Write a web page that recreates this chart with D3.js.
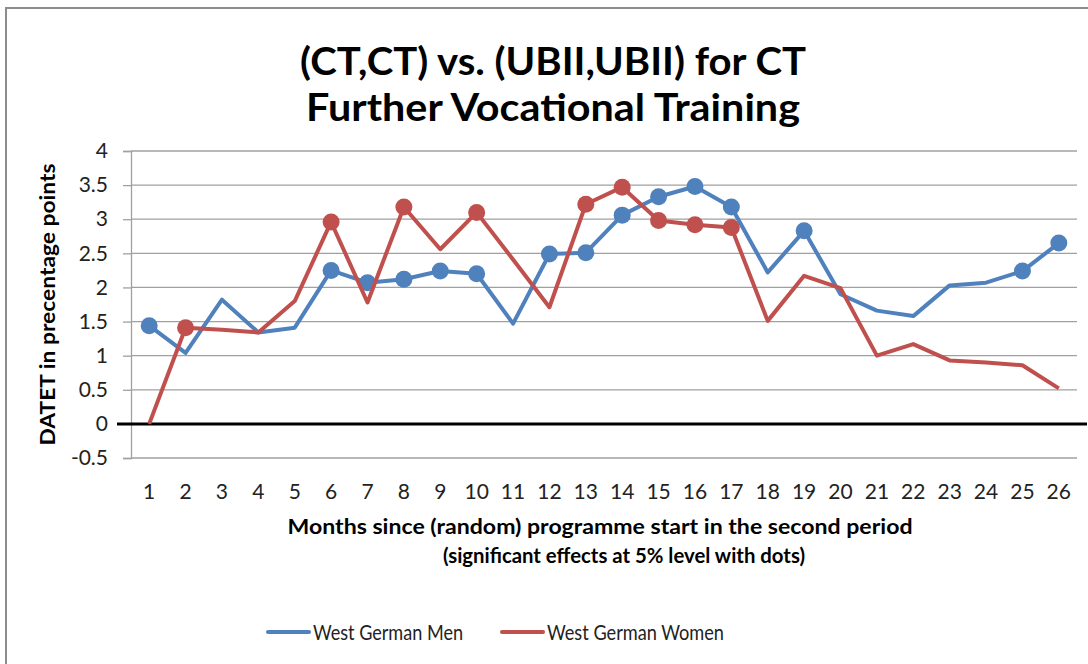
<!DOCTYPE html>
<html>
<head>
<meta charset="utf-8">
<script src="https://cdn.jsdelivr.net/npm/d3@7"></script>
<style>
  body { margin: 0; background: #fff; }
  svg { display: block; }
</style>
</head>
<body>
<div id="cnt"></div>
<script>
const months = [1, 2, 3, 4, 5, 6, 7, 8, 9, 10, 11, 12, 13, 14, 15, 16, 17, 18, 19, 20, 21, 22, 23, 24, 25, 26]
const menValues = [1.44, 1.04, 1.82, 1.34, 1.41, 2.25, 2.07, 2.12, 2.24, 2.20, 1.47, 2.49, 2.51, 3.06, 3.33, 3.48, 3.18, 2.22, 2.83, 1.90, 1.66, 1.58, 2.03, 2.07, 2.24, 2.65]
const womenValues = [0, 1.41, 1.38, 1.34, 1.80, 2.96, 1.78, 3.18, 2.56, 3.10, 2.41, 1.71, 3.22, 3.47, 2.98, 2.92, 2.88, 1.51, 2.17, 1.99, 1.00, 1.17, 0.93, 0.90, 0.86, 0.52]
// months where the effect is significant at 5% (drawn with dots)
const menSignificant = [1, 6, 7, 8, 9, 10, 12, 13, 14, 15, 16, 17, 19, 25, 26]
const womenSignificant = [2, 6, 8, 10, 13, 14, 15, 16, 17]
const yTicks = [-0.5, 0, 0.5, 1, 1.5, 2, 2.5, 3, 3.5, 4]
const seriesNames = ['West German Men', 'West German Women']

const titleLines = ['(CT,CT) vs. (UBII,UBII) for CT', 'Further Vocational Training']
const xTitleLines = ['Months since (random) programme start in the second period', '(significant effects at 5% level with dots)']
const yTitle = 'DATET in precentage points'

const blue = '#4f81bd'
const red = '#c0504d'
const gridColor = '#a0a0a0'
const font = 'Lato, Calibri, "Open Sans", sans-serif'

const width = 1088
const height = 664
const plotLeft = 131
const plotRight = 1077
const plotTop = 151
const plotBottom = 458

const x = d3.scaleBand()
    .domain(months)
    .range([plotLeft, plotRight])
    .padding(0)
const cx = m => x(m) + x.bandwidth() / 2

const y = d3.scaleLinear()
    .domain([-0.5, 4])
    .range([plotBottom, plotTop])

const svg = d3.select('#cnt')
    .append('svg')
    .attr('width', width)
    .attr('height', height)
    .style('font-family', font)

// chart area border
svg.append('rect')
    .attr('x', 6)
    .attr('y', 8)
    .attr('width', 1200)
    .attr('height', 800)
    .attr('fill', 'none')
    .attr('stroke', '#8c8c8c')
    .attr('stroke-width', 2)

// title
svg.append('g')
    .selectAll('text')
    .data(titleLines)
    .join('text')
    .attr('x', 553)
    .attr('y', (d, i) => 75 + i * 46)
    .attr('text-anchor', 'middle')
    .attr('font-size', 38)
    .attr('font-weight', 'bold')
    .attr('textLength', (d, i) => [506, 494][i])
    .attr('lengthAdjust', 'spacingAndGlyphs')
    .attr('fill', '#000')
    .text(d => d)

// horizontal grid
svg.append('g')
    .selectAll('line')
    .data(yTicks.filter(v => v !== 0))
    .join('line')
    .attr('x1', plotLeft)
    .attr('x2', plotRight)
    .attr('y1', d => y(d))
    .attr('y2', d => y(d))
    .attr('stroke', gridColor)
    .attr('stroke-width', 1.3)

// y axis
const yAxis = svg.append('g')
    .attr('transform', `translate(${plotLeft},0)`)
    .call(d3.axisLeft(y).tickValues(yTicks).tickSize(8).tickPadding(15).tickFormat(d => String(d)))
yAxis.select('.domain')
    .attr('stroke', gridColor)
    .attr('stroke-width', 1.3)
yAxis.selectAll('.tick line')
    .attr('stroke', gridColor)
    .attr('stroke-width', 1.3)
yAxis.selectAll('.tick text')
    .attr('font-family', font)
    .attr('font-size', 21)
    .attr('fill', '#222')

// zero line
svg.append('line')
    .attr('x1', 117)
    .attr('x2', 1087)
    .attr('y1', y(0))
    .attr('y2', y(0))
    .attr('stroke', '#000')
    .attr('stroke-width', 3)

// x axis labels
const xAxis = svg.append('g')
    .attr('transform', `translate(0,${plotBottom})`)
    .call(d3.axisBottom(x).tickSize(0))
xAxis.select('.domain').remove()
xAxis.selectAll('.tick text')
    .attr('dy', null)
    .attr('y', 41)
    .attr('font-family', font)
    .attr('font-size', 21)
    .attr('fill', '#222')

// axis titles
svg.append('g')
    .selectAll('text')
    .data(xTitleLines)
    .join('text')
    .attr('x', (d, i) => [600, 624][i])
    .attr('y', (d, i) => 534 + i * 29)
    .attr('text-anchor', 'middle')
    .attr('font-size', 21)
    .attr('font-weight', 'bold')
    .attr('textLength', (d, i) => [625, 362][i])
    .attr('lengthAdjust', 'spacingAndGlyphs')
    .text(d => d)

svg.append('text')
    .attr('transform', `translate(55,${(plotTop + plotBottom) / 2}) rotate(-90)`)
    .attr('text-anchor', 'middle')
    .attr('font-size', 21)
    .attr('font-weight', 'bold')
    .attr('textLength', 282)
    .attr('lengthAdjust', 'spacingAndGlyphs')
    .text(yTitle)

// series
const series = [
    {name: seriesNames[0], values: menValues, dots: menSignificant, color: blue},
    {name: seriesNames[1], values: womenValues, dots: womenSignificant, color: red}
]

const line = d3.line()
    .x((d, i) => cx(months[i]))
    .y(d => y(d))

for (const s of series) {
    svg.append('path')
        .datum(s.values)
        .attr('d', line)
        .attr('fill', 'none')
        .attr('stroke', s.color)
        .attr('stroke-width', 4)
        .attr('stroke-linejoin', 'round')

    svg.append('g')
        .selectAll('circle')
        .data(s.dots)
        .join('circle')
        .attr('cx', m => cx(m))
        .attr('cy', m => y(s.values[m - 1]))
        .attr('r', 8.5)
        .attr('fill', s.color)
}

// legend
const legendX = [268, 502]
const legend = svg.append('g')
    .selectAll('g')
    .data(series)
    .join('g')
    .attr('transform', (d, i) => `translate(${legendX[i]},632)`)
legend.append('line')
    .attr('x1', 0)
    .attr('x2', 41)
    .attr('stroke', d => d.color)
    .attr('stroke-width', 4)
    .attr('stroke-linecap', 'round')
legend.append('text')
    .attr('x', 45)
    .attr('y', 8)
    .attr('font-size', 21)
    .attr('fill', '#222')
    .attr('textLength', (d, i) => [150, 177][i])
    .attr('lengthAdjust', 'spacingAndGlyphs')
    .text(d => d.name)
</script>
</body>
</html>
